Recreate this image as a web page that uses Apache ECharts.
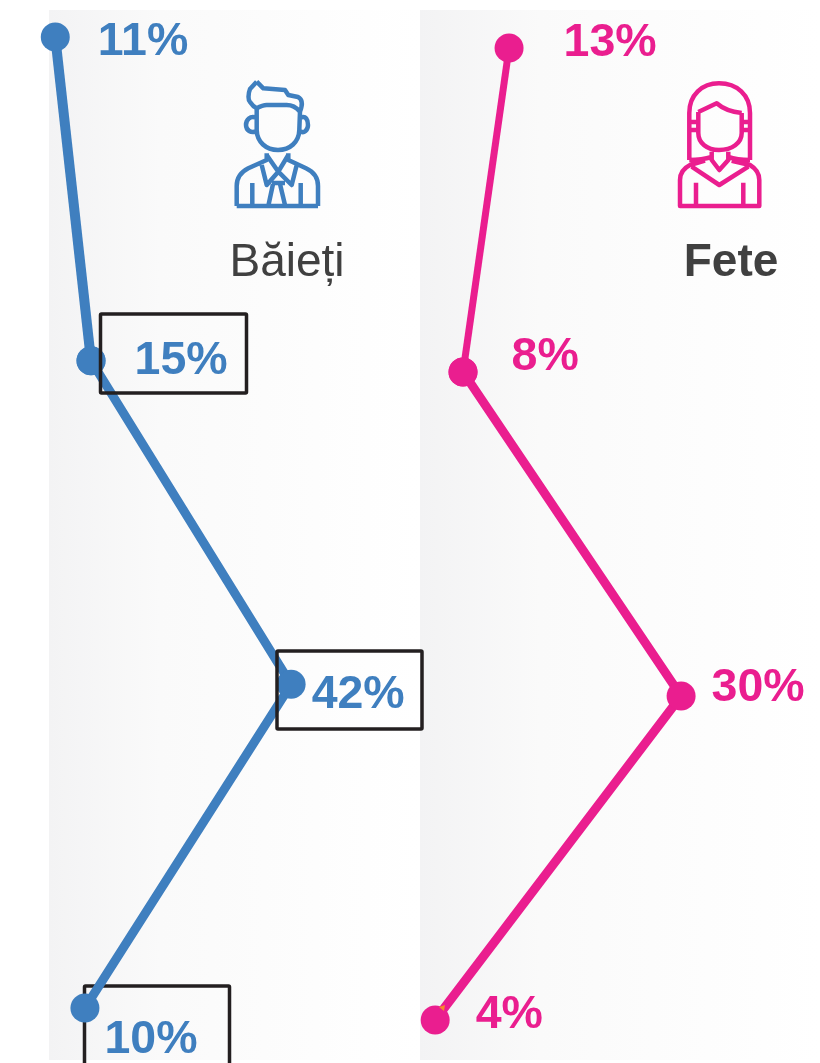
<!DOCTYPE html>
<html>
<head>
<meta charset="utf-8">
<style>
    html, body { margin: 0; padding: 0; background: #fff; }
    #chart { width: 820px; height: 1063px; }
</style>
<script src="https://cdn.jsdelivr.net/npm/echarts@6/dist/echarts.min.js"></script>
</head>
<body>
<div id="chart"></div>
<script>
// four unnamed rows in the source picture
const rows = ['1', '2', '3', '4']

// printed percentages
const boysLabels = [11, 15, 42, 10]
const girlsLabels = [13, 8, 30, 4]

// where the points really sit: the source does not
// place them exactly at the printed value, so the two are kept apart
const boysPosition = [11, 15.7, 42, 14.9]
const girlsPosition = [13, 8.45, 30, 5.7]

const BLUE = '#3f7fbf'
const PINK = '#ea1e8f'
const GREY = '#404040'
const FONT = '"Liberation Sans", Arial, sans-serif'

// label offsets from the point, per row
const boysOffset = [[28, 5], [29, 1], [6, 11], [5, 32]]
const girlsOffset = [[40, -5], [34, -15], [16, -8], [26, -5]]

const boyIcon =
    'M256.7 81.7L250 89C248 94 248 100 250 102C252 105 254 107 256.7 108.3' +
    'L256.7 130C257 142 266 150 278 150C290 150 299 142 299.3 130L300 111.7' +
    'C296 107 292 105 286.7 105L266.7 105C263 105 259 107 256.7 108.3' +
    'M256.7 81.7L263.3 88.3L285 90L288.3 95L298 97C302 99 303 104 300 111.7' +
    'M256.7 118C250 115 246 120 246 125C246 130 251 134 256.7 131' +
    'M300 118C306 115 308 120 308 125C308 130 304 134 300 131' +
    'M266.7 153.3L266.7 160L248.3 168.3C241 172 236.7 178 236.7 186L236.7 206' +
    'M236.7 206L318 206' +
    'M288.3 153.3L288.3 160L306 168.3C314 172 318 178 318 186L318 206' +
    'M266.7 155L278.3 171.7L288.3 155' +
    'M261.7 165L266.7 185L278.3 171.7L291.7 185L296.7 165' +
    'M272 183L285 183M273 184L268.5 205M280 184L285 205' +
    'M252.3 183L252.3 205M300.7 183L300.7 205'

const girlIcon =
    'M689.3 160L689.3 113C689.3 95 702 83.3 719 83.3C737 83.3 750 95 750 113L750 160' +
    'M698.3 112L716.7 103.3C722 108 732 112 741.7 113' +
    'M698.3 112L698.3 133C698.3 143 707 150 719 150C732 150 741.7 143 741.7 133L741.7 113' +
    'M690 122L698 122M690 130L698 130M742 122L750 122M742 130L750 130' +
    'M689.3 160C696 160 702 160 711.7 157M750 160C743 160 737 160 728.3 157' +
    'M711.7 151.7L711.7 160L719.3 170L728.3 160L728.3 151.7' +
    'M691.7 166.7L719.3 185L748.3 166.7' +
    'M705 160.7L690 165C684 168 680 172 680 180L680 206L759.3 206L759.3 180C759.3 172 755 168 750 165L731.7 160.7' +
    'M696 182.7L696 205M743.3 182.7L743.3 205'

echarts.graphic.registerShape('boyIcon', echarts.graphic.extendPath(boyIcon))
echarts.graphic.registerShape('girlIcon', echarts.graphic.extendPath(girlIcon))

const toPoints = (positions) => positions.map((v, i) => [v, rows[i]])

// one series for the first segment (drawn with another width), one for the rest
const buildSeries = (positions, labels, offsets, color, grid, topWidth, restWidth) => {
    const points = toPoints(positions)
    const common = {
        type: 'line',
        xAxisIndex: grid,
        yAxisIndex: grid,
        symbol: 'circle',
        symbolSize: 29,
        silent: true,
        itemStyle: { color: color }
    }
    const data = points.map((p, i) => ({
        value: p,
        label: {
            show: true,
            position: 'right',
            distance: 0,
            offset: offsets[i],
            formatter: labels[i] + '%',
            color: color,
            fontFamily: FONT,
            fontWeight: 'bold',
            fontSize: 46.5
        }
    }))
    return [
        Object.assign({}, common, {
            lineStyle: { color: color, width: restWidth },
            data: data.slice(1)
        }),
        Object.assign({}, common, {
            lineStyle: { color: color, width: topWidth },
            data: [data[0], { value: points[1], label: { show: false } }]
        })
    ]
}

const panel = (x, width) => ({
    type: 'rect',
    z: -10,
    silent: true,
    shape: { x: x, y: 10, width: width, height: 1050 },
    style: {
        fill: new echarts.graphic.LinearGradient(0, 0, 1, 0, [
            { offset: 0, color: '#f3f3f4' },
            { offset: 0.3, color: '#fafafa' },
            { offset: 1, color: '#ffffff' }
        ])
    }
})

const box = (x, y, width, height, z) => ({
    type: 'rect',
    z: z,
    silent: true,
    shape: { x: x, y: y, width: width, height: height, r: 1 },
    style: { fill: 'none', stroke: '#231f20', lineWidth: 3.5 }
})

const icon = (type, color) => ({
    type: type,
    z: 5,
    silent: true,
    shape: {},
    style: { fill: 'none', stroke: color, lineWidth: 4.5, lineJoin: 'round' }
})

const title = (text, x, weight) => ({
    type: 'text',
    z: 5,
    silent: true,
    style: {
        text: text,
        x: x,
        y: 263,
        textAlign: 'center',
        textVerticalAlign: 'middle',
        fontFamily: FONT,
        fontSize: 46,
        fontWeight: weight,
        fill: GREY
    }
})

const hiddenY = (grid) => ({
    type: 'category',
    gridIndex: grid,
    inverse: true,
    boundaryGap: false,
    data: rows,
    show: false
})

const hiddenX = (grid, min, max) => ({
    type: 'value',
    gridIndex: grid,
    min: min,
    max: max,
    show: false,
    splitLine: { show: false }
})

const chart = echarts.init(document.getElementById('chart'), null, { renderer: 'canvas' })

chart.setOption({
    animation: false,
    backgroundColor: '#fff',
    grid: [
        { left: 2, top: 37, width: 350, height: 971 },
        { left: 377.5, top: 48, width: 404.8, height: 972 }
    ],
    xAxis: [hiddenX(0, 4, 50), hiddenX(1, 0, 40)],
    yAxis: [hiddenY(0), hiddenY(1)],
    series: [
        ...buildSeries(boysPosition, boysLabels, boysOffset, BLUE, 0, 10, 9),
        ...buildSeries(girlsPosition, girlsLabels, girlsOffset, PINK, 1, 7, 9)
    ],
    graphic: [
        panel(49, 371),
        panel(420, 400),
        box(100.5, 314, 146, 79, 100),
        box(277, 651, 145, 78, 100),
        box(84.5, 986, 145, 90, 1),
        icon('boyIcon', BLUE),
        icon('girlIcon', PINK),
        title('Băieți', 287, 'normal'),
        title('Fete', 731, 'bold'),
        {
            type: 'polygon',
            z: 100,
            silent: true,
            shape: { points: [[439, 1007], [445, 1005], [444, 1011]] },
            style: { fill: '#f58a2c' }
        }
    ]
})
</script>
</body>
</html>
